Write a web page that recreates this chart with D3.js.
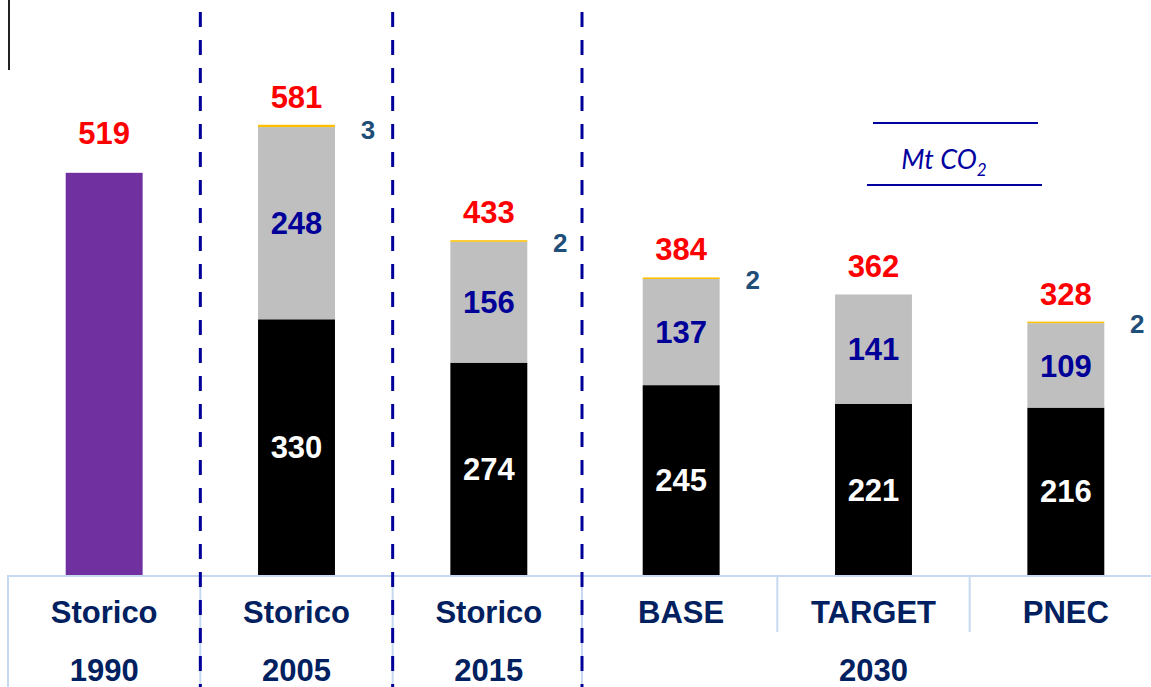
<!DOCTYPE html>
<html>
<head>
<meta charset="utf-8">
<script src="https://cdn.jsdelivr.net/npm/d3@7"></script>
<style>
  body { margin: 0; background: #fff; }
  svg { display: block; font-family: "Liberation Sans", Arial, sans-serif; }
</style>
</head>
<body>
<svg id="chart" width="1151" height="687"></svg>
<script>
// categories and values
const keys = ["1990", "2005", "2015", "BASE", "TARGET", "PNEC"];
const topLabels = ["Storico", "Storico", "Storico", "BASE", "TARGET", "PNEC"];
const yearLabels = ["1990", "2005", "2015"];
const historic1990 = 519;
const blackValues = [null, 330, 274, 245, 221, 216];
const grayValues = [null, 248, 156, 137, 141, 109];
const otherValues = [null, 3, 2, 2, 0, 2];
const totals = [519, 581, 433, 384, 362, 328];

const svg = d3.select('#chart');
const width = 1151, height = 687;
const baseY = 575;

const x = d3.scaleBand()
  .domain(keys)
  .range([8, 1162])
  .paddingInner(0.6)
  .paddingOuter(0.3);

const y = d3.scaleLinear()
  .domain([0, 742])
  .range([baseY, 0]);

// top-left marker line
svg.append('line')
  .attr('x1', 9).attr('x2', 9)
  .attr('y1', 0).attr('y2', 70)
  .attr('stroke', '#222')
  .attr('stroke-width', 2);

// table lines under the chart
const grid = svg.append('g').attr('stroke', '#c6d9f1').attr('stroke-width', 2);
grid.append('line')
  .attr('x1', 9).attr('x2', width)
  .attr('y1', baseY + 1).attr('y2', baseY + 1);
const sepX = keys.slice(0, 4).map((k, i) => x(k) - x.step() * 0.3 - (i === 3 ? 3 : 0));
sepX.forEach(sx => {
  grid.append('line').attr('x1', sx).attr('x2', sx).attr('y1', baseY).attr('y2', height);
});
['TARGET', 'PNEC'].forEach(k => {
  const sx = x(k) - x.step() * 0.3;
  grid.append('line').attr('x1', sx).attr('x2', sx).attr('y1', baseY).attr('y2', 632);
});

// bars
const bars = svg.append('g');
bars.append('rect')
  .attr('x', x('1990'))
  .attr('width', x.bandwidth())
  .attr('y', y(historic1990))
  .attr('height', y(0) - y(historic1990))
  .attr('fill', '#7030a0');

keys.forEach((k, i) => {
  if (blackValues[i] == null) return;
  const b = blackValues[i], g = grayValues[i], o = otherValues[i];
  bars.append('rect')
    .attr('x', x(k)).attr('width', x.bandwidth())
    .attr('y', y(b)).attr('height', y(0) - y(b))
    .attr('fill', '#000');
  bars.append('rect')
    .attr('x', x(k)).attr('width', x.bandwidth())
    .attr('y', y(b + g)).attr('height', y(b) - y(b + g))
    .attr('fill', '#bfbfbf');
  if (o > 0) {
    bars.append('rect')
      .attr('x', x(k)).attr('width', x.bandwidth())
      .attr('y', y(b + g + o)).attr('height', y(b + g) - y(b + g + o))
      .attr('fill', '#ffc000');
  }
});

// value labels
const labels = svg.append('g')
  .attr('text-anchor', 'middle')
  .style('font-weight', 'bold')
  .style('font-size', '31px');

keys.forEach((k, i) => {
  const cx = x(k) + x.bandwidth() / 2;
  const top = i === 0 ? y(historic1990) : y(blackValues[i] + grayValues[i] + otherValues[i]);
  labels.append('text')
    .attr('x', cx)
    .attr('y', top - (i === 0 ? 29 : 17))
    .attr('fill', '#ff0000')
    .text(totals[i]);
  if (blackValues[i] == null) return;
  const b = blackValues[i], g = grayValues[i], o = otherValues[i];
  labels.append('text')
    .attr('x', cx)
    .attr('y', (y(0) + y(b)) / 2)
    .attr('dy', '0.36em')
    .attr('fill', '#fff')
    .text(b);
  labels.append('text')
    .attr('x', cx)
    .attr('y', (y(b) + y(b + g)) / 2)
    .attr('dy', '0.36em')
    .attr('fill', '#000099')
    .text(g);
  if (o > 0) {
    labels.append('text')
      .attr('x', x(k) + x.bandwidth() + 33)
      .attr('y', y(b + g + o) + (i === 1 ? 5 : 2))
      .attr('dy', '0.36em')
      .attr('fill', '#1f4e79')
      .style('font-size', '26px')
      .text(o);
  }
});

// dashed separators
const dash = svg.append('g')
  .attr('stroke', '#000099')
  .attr('stroke-width', 3)
  .attr('stroke-dasharray', '15,13');
sepX.slice(1).forEach(sx => {
  dash.append('line')
    .attr('x1', sx).attr('x2', sx)
    .attr('y1', 12).attr('y2', height);
});

// category labels
const cat = svg.append('g')
  .attr('text-anchor', 'middle')
  .attr('fill', '#002060')
  .style('font-weight', 'bold')
  .style('font-size', '31px');
keys.forEach((k, i) => {
  cat.append('text')
    .attr('x', x(k) + x.bandwidth() / 2)
    .attr('y', 623)
    .text(topLabels[i]);
});
yearLabels.forEach(k => {
  cat.append('text')
    .attr('x', x(k) + x.bandwidth() / 2)
    .attr('y', 681)
    .text(k);
});
cat.append('text')
  .attr('x', (x('BASE') + x('PNEC') + x.bandwidth()) / 2)
  .attr('y', 681)
  .text('2030');

// unit box
const unit = svg.append('g');
unit.append('line').attr('x1', 873).attr('x2', 1038).attr('y1', 123).attr('y2', 123)
  .attr('stroke', '#0000a0').attr('stroke-width', 2);
unit.append('line').attr('x1', 867).attr('x2', 1042).attr('y1', 185).attr('y2', 185)
  .attr('stroke', '#0000a0').attr('stroke-width', 2);
const ut = unit.append('text')
  .attr('x', 944).attr('y', 169)
  .attr('text-anchor', 'middle')
  .attr('fill', '#0000a0')
  .style('font-family', 'Lato, "Open Sans", sans-serif')
  .style('font-style', 'italic')
  .style('font-size', '27px');
ut.append('tspan').text('Mt CO');
ut.append('tspan').attr('dy', 7).style('font-size', '17px').text('2');
</script>
</body>
</html>
